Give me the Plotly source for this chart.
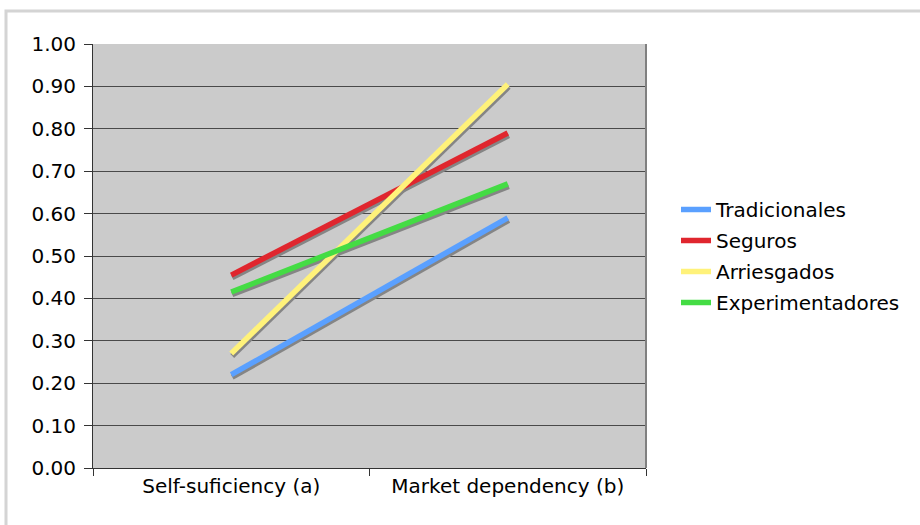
import plotly.graph_objects as go

categories = ["Self-suficiency (a)", "Market dependency (b)"]
series_names = ["Tradicionales", "Seguros", "Arriesgados", "Experimentadores"]
tradicionales = [0.22, 0.59]
seguros = [0.455, 0.79]
arriesgados = [0.27, 0.905]
experimentadores = [0.415, 0.67]
series_values = [tradicionales, seguros, arriesgados, experimentadores]
colors = ["#5aa0ff", "#e0262e", "#fff27a", "#44dc44"]
y_ticks = [0.0, 0.1, 0.2, 0.3, 0.4, 0.5, 0.6, 0.7, 0.8, 0.9, 1.0]

FONT = "DejaVu Sans, Verdana, sans-serif"
W, H = 920, 525
ML, MR, MT, MB = 93, 274, 44, 57
pw = W - ML - MR
ph = H - MT - MB

fig = go.Figure()

# invisible anchor trace so the main (visible) axes are built
fig.add_trace(go.Scatter(x=categories, y=tradicionales, mode="lines",
                         line=dict(color="rgba(0,0,0,0)", width=1),
                         showlegend=False, hoverinfo="skip"))

# shadows on an overlay axis pair shifted by a few pixels
dx = 1.0 / pw * 2.0
dy = 2.5 / ph * 1.0
for name, vals in zip(series_names, series_values):
    fig.add_trace(go.Scatter(x=categories, y=vals, mode="lines",
                             line=dict(color="#858585", width=5.5),
                             xaxis="x2", yaxis="y2", showlegend=False,
                             hoverinfo="skip"))
# coloured lines on a second overlay (drawn above shadows)
for name, vals, c in zip(series_names, series_values, colors):
    fig.add_trace(go.Scatter(x=categories, y=vals, mode="lines", name=name,
                             legendgroup=name, xaxis="x3", yaxis="y3",
                             line=dict(color=c, width=5.5)))

fig.update_layout(
    width=W, height=H,
    margin=dict(l=ML, r=MR, t=MT, b=MB),
    paper_bgcolor="white",
    plot_bgcolor="#cbcbcb",
    font=dict(family=FONT, size=20, color="black"),
    xaxis=dict(type="category", range=[-0.5, 1.5], showgrid=False,
               tickson="boundaries", ticks="outside", ticklen=7,
               tickcolor="#333333", showline=True, linecolor="#333333",
               linewidth=1, zeroline=False, tickfont=dict(size=20)),
    yaxis=dict(range=[0, 1.0], tickvals=y_ticks,
               ticktext=[f"{v:.2f}" for v in y_ticks],
               showgrid=True, gridcolor="#4a4a4a", gridwidth=1,
               ticks="outside", ticklen=8, tickcolor="#333333",
               showline=True, linecolor="#333333", linewidth=1,
               zeroline=False, ticklabelstandoff=4),
    xaxis2=dict(type="category", range=[-0.5 - dx, 1.5 - dx], overlaying="x",
                visible=False),
    yaxis2=dict(range=[0 + dy, 1.0 + dy], overlaying="y", visible=False),
    xaxis3=dict(type="category", range=[-0.5, 1.5], overlaying="x",
                visible=False),
    yaxis3=dict(range=[0, 1.0], overlaying="y", visible=False),
    legend=dict(x=(676 - ML) / pw, xanchor="left", y=0.5, yanchor="middle",
                font=dict(size=20), bgcolor="rgba(0,0,0,0)",
                tracegroupgap=2),
    showlegend=True,
)

# plot area right border
fig.add_shape(type="line", xref="paper", yref="paper", x0=1, x1=1, y0=0, y1=1,
              line=dict(color="#808080", width=2))
# outer chart frame
fig.add_shape(type="rect", xref="paper", yref="paper",
              x0=(6 - ML) / pw, x1=(940 - ML) / pw,
              y0=(H - MB - 560) / ph, y1=(H - MB - 11) / ph,
              line=dict(color="#d4d4d4", width=3), layer="below")

fig.write_html("out.html", config={"displayModeBar": False},
               post_script="document.body.style.margin='0';document.body.style.overflow='hidden';")
